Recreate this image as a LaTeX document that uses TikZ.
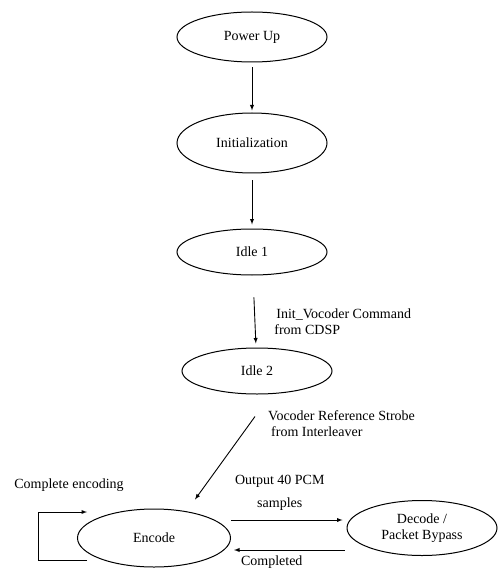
\documentclass[tikz,border=0pt]{standalone}
\usepackage{fontspec}
\setmainfont{Liberation Serif}
\usetikzlibrary{shapes.geometric, arrows, positioning, calc}
\newcommand{\lblfont}{\fontsize{14}{16.5}\selectfont}

\begin{document}
\begin{tikzpicture}[
    node distance=50pt,
    state/.style={ellipse, draw, line width=1pt, minimum width=150pt,
                  minimum height=50pt, inner sep=0pt, align=center, font=\lblfont},
    lbl/.style={font=\lblfont, inner sep=0pt, align=left},
    arrow/.style={->, line width=0.9pt, >=latex}
]

% Frame
\useasboundingbox (0pt,0pt) rectangle (497pt,-569pt);

% States
\node[state] (powerup) at (252pt,-37pt) {Power Up};
\node[state, minimum height=60pt, below=50pt of powerup] (init) {Initialization};
\node[state, minimum height=46pt, below=55pt of init] (idle1) {Idle 1};
\node[state, minimum height=46pt, below=72pt of idle1, xshift=5pt] (idle2) {Idle 2};

\node[state, minimum width=153pt, minimum height=58pt] (encode) at (154pt,-538pt) {Encode};
\node[state, minimum height=55pt] (decode) at (422pt,-528pt) {Decode /\\Packet Bypass};

% Start-up arrows
\draw[arrow, shorten <=5pt, shorten >=2pt] (powerup) -- (init);
\draw[arrow, shorten <=7pt, shorten >=4pt] (init) -- (idle1);
\draw[arrow, shorten <=22pt, shorten >=4pt] (idle1) --
    node[lbl, pos=0.64, right=19pt] (cmdlbl) {\hspace*{2pt}Init\_Vocoder Command\\from CDSP} (idle2);

% Strobe
\draw[arrow] ([xshift=-2pt,yshift=-22pt]idle2.south) -- ([xshift=41pt,yshift=9pt]encode.north);
\node[lbl, anchor=west] (strobe) at ([xshift=11pt,yshift=-29pt]idle2.south)
    {Vocoder Reference Strobe\\\hspace*{3pt}from Interleaver};

% Encode loop
\draw[arrow] ([xshift=10pt,yshift=-22pt]encode.west) -- ++(-49pt,0)
    |- ([xshift=10pt,yshift=26pt]encode.west);
\node[lbl] (selflbl) at ([xshift=-85pt,yshift=53pt]encode.center) {Complete encoding};

% Encode <-> Decode
\draw[arrow, shorten >=4pt] ([yshift=18pt]encode.east) --
    node[lbl, align=center, above=9pt, xshift=-9pt] (outlbl) {Output 40 PCM\\[7pt]samples}
    ([yshift=8pt]decode.west);
\draw[arrow, shorten <=2pt, shorten >=3pt] ([yshift=-22pt]decode.west) --
    node[lbl, below=5pt, xshift=-17pt] (donelbl) {Completed}
    ([yshift=-12pt]encode.east);

\end{tikzpicture}
\end{document}
